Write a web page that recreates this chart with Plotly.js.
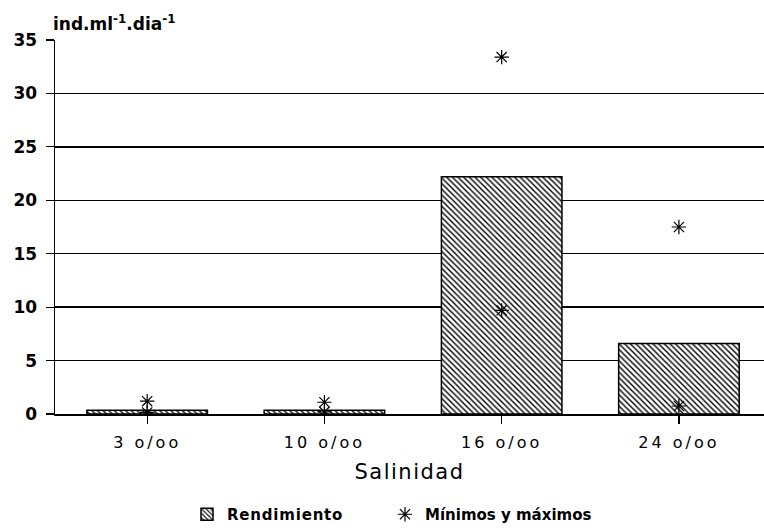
<!DOCTYPE html>
<html><head><meta charset="utf-8">
<script src="https://cdn.plot.ly/plotly-3.0.1.min.js"></script>
<style>
body{margin:0;background:#fff}#c{width:764px;height:531px}
#c .xtick text{letter-spacing:3px}
#c .g-xtitle text{letter-spacing:1.5px}
#c .legendtext{letter-spacing:0.8px;word-spacing:4px}
</style>
</head><body><div id="c"></div>
<script>
const categories = ["3 o/oo", "10 o/oo", "16 o/oo", "24 o/oo"];
const rendimiento = [0.35, 0.35, 22.2, 6.6];
const minimos = [0.15, 0.2, 9.7, 0.75];
const maximos = [1.2, 1.1, 33.4, 17.5];
const yTicks = [0, 5, 10, 15, 20, 25, 30, 35];

const font = "DejaVu Sans, Arial, sans-serif";
const legendFont = {family: font, size: 15, color: "#000", weight: "bold"};
const traces = [
  {type: "bar", x: categories, y: rendimiento, name: "Rendimiento", width: 0.68, legend: "legend",
   marker: {color: "#fff", line: {color: "#000", width: 1.5},
            pattern: {shape: "\\", fgcolor: "#000", bgcolor: "#fff", size: 4, solidity: 0.35}}},
  {type: "scatter", mode: "markers", x: categories.concat(categories), y: minimos.concat(maximos),
   name: "Mínimos y máximos", legend: "legend2",
   marker: {symbol: "asterisk-open", size: 12, color: "#000", line: {color: "#000", width: 1.2}}}
];
const layout = {
  width: 764, height: 531,
  margin: {l: 55, r: 0, t: 40, b: 115},
  paper_bgcolor: "#fff", plot_bgcolor: "#fff",
  showlegend: true,
  legend: {orientation: "h", x: (187 - 55) / 709, xanchor: "left", y: -0.225, yanchor: "top",
           entrywidth: 135, entrywidthmode: "pixels", font: legendFont},
  legend2: {orientation: "h", x: (385 - 55) / 709, xanchor: "left", y: -0.225, yanchor: "top",
           entrywidth: 215, entrywidthmode: "pixels", font: legendFont},
  xaxis: {type: "category", range: [-0.52, 3.48], showgrid: false,
          ticks: "outside", ticklen: 8, tickcolor: "#000", tickwidth: 1.2,
          showline: true, linecolor: "#000", linewidth: 1.5, ticklabelstandoff: 5,
          tickfont: {family: font, size: 16, color: "#000"},
          title: {text: "Salinidad", font: {family: font, size: 21, color: "#000"}, standoff: 13}},
  yaxis: {range: [0, 35], tickvals: yTicks, showgrid: true, gridcolor: "#000", gridwidth: 1.4,
          ticks: "outside", ticklen: 8, tickcolor: "#000", tickwidth: 1.2,
          showline: true, linecolor: "#000", linewidth: 1.5, zeroline: false, ticklabelstandoff: 5,
          tickfont: {family: font, size: 17, color: "#000", weight: "bold"}},
  annotations: [{text: "ind.ml<sup>-1</sup>.dia<sup>-1</sup>", xref: "paper", yref: "paper",
                 x: 0, y: 1, xanchor: "left", yanchor: "bottom", xshift: -4, yshift: 4, showarrow: false,
                 font: {family: font, size: 17, color: "#000", weight: "bold"}}]
};
Plotly.newPlot("c", traces, layout, {displayModeBar: false, staticPlot: true});
</script></body></html>
